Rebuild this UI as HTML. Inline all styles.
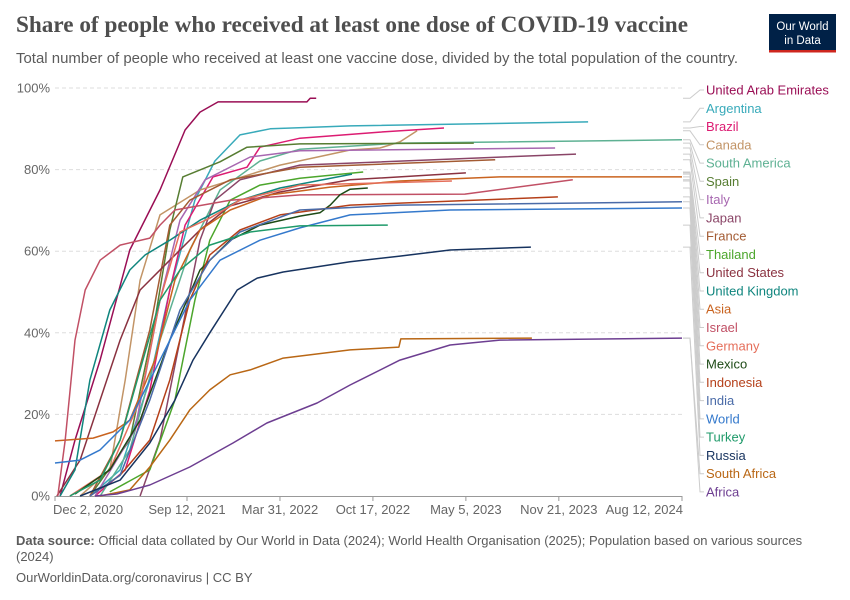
<!DOCTYPE html>
<html><head><meta charset="utf-8">
<style>
html,body{margin:0;padding:0;background:#fff;}
svg{display:block;font-family:"Liberation Sans",sans-serif;}
</style></head>
<body>
<svg id="chart" width="850" height="600" viewBox="0 0 850 600" xmlns="http://www.w3.org/2000/svg">
<text x="16" y="32" font-family="Liberation Serif,serif" font-weight="bold" font-size="23" fill="#4e4e4e" textLength="672" lengthAdjust="spacingAndGlyphs">Share of people who received at least one dose of COVID-19 vaccine</text>
<text x="16" y="63" font-size="14.5" fill="#5b5b5b" textLength="722" lengthAdjust="spacingAndGlyphs">Total number of people who received at least one vaccine dose, divided by the total population of the country.</text>
<g>
<rect x="769" y="14" width="67" height="38" fill="#002147"/>
<rect x="769" y="50" width="67" height="2.5" fill="#ce261e"/>
<text x="802.5" y="30" font-size="11.5" fill="#fff" text-anchor="middle">Our World</text>
<text x="802.5" y="44" font-size="11.5" fill="#fff" text-anchor="middle">in Data</text>
</g>
<g id="grid"></g>
<g id="axes"></g>
<g id="lines"></g>
<g id="legend"></g>
<text x="16" y="545" font-size="13" fill="#5b5b5b"><tspan font-weight="bold">Data source:</tspan> Official data collated by Our World in Data (2024); World Health Organisation (2025); Population based on various sources</text>
<text x="16" y="561" font-size="13" fill="#5b5b5b">(2024)</text>
<text x="16" y="582" font-size="13" fill="#5b5b5b">OurWorldinData.org/coronavirus | CC BY</text>
</svg>
<script>
const yTicks=[0,20,40,60,80,100];
const xTickDays=[0,284,484,684,884,1084,1349];
const xTickLabels=["Dec 2, 2020","Sep 12, 2021","Mar 31, 2022","Oct 17, 2022","May 5, 2023","Nov 21, 2023","Aug 12, 2024"];
const seriesNames=["United Arab Emirates","Argentina","Brazil","Canada","South America","Spain","Italy","Japan","France","Thailand","United States","United Kingdom","Asia","Israel","Germany","Mexico","Indonesia","India","World","Turkey","Russia","South Africa","Africa"];
const seriesColors=["#9a0e55","#38aaba","#dc1c72","#c29466","#5eb193","#577d32","#a767b0","#8a4567","#a35b33","#4ca62c","#8a3240","#0f857e","#c9631f","#c15065","#e56e5a","#1d4a16","#b5401a","#4a6ba8","#3479cc","#1f9a6a","#17335f","#b96715","#6d3e91"];
const uae=[[11,0],[43,13.7],[97,33.3],[161,60.3],[226,75],[280,89.7],[312,94.1],[351,96.6],[542,96.6],[549,97.5],[562,97.5]];
const argentina=[[75,0],[140,6.4],[204,28.4],[247,50.5],[301,72.5],[344,82.1],[398,88.5],[463,90],[635,90.7],[1147,91.7]];
const brazil=[[86,0],[151,6.4],[204,25.9],[247,50.5],[280,66.4],[340,78.2],[413,80.6],[441,85.5],[527,87.7],[699,89.2],[837,90.2]];
const canada=[[54,0],[118,6.4],[151,28.4],[183,52.9],[226,68.9],[312,75],[484,81.1],[635,84.8],[699,85.3],[742,86.8],[779,89.5]];
const southAmerica=[[97,0],[161,11.3],[226,38.2],[290,60.3],[355,75],[441,82.1],[527,85],[742,86.5],[1349,87.3]];
const spain=[[75,0],[161,13.7],[215,43.1],[247,65.2],[275,78.2],[355,81.9],[413,85.5],[527,86.3],[901,86.5]];
const italy=[[86,0],[172,16.2],[226,48],[269,67.6],[323,77.5],[420,83.1],[527,84.6],[1076,85.3]];
const japan=[[183,0],[226,13.7],[269,38.2],[312,62.7],[344,72.5],[398,77.5],[527,81.1],[1121,83.8]];
const france=[[75,0],[140,13.7],[204,40.7],[247,66.4],[290,72.5],[377,77.5],[527,80.6],[947,82.4]];
const thailand=[[118,1],[204,6.4],[258,23.5],[301,48],[333,62.7],[377,72.5],[441,76.2],[527,77.9],[663,79.4]];
const unitedStates=[[4,0],[54,8.8],[97,23.5],[140,38.2],[183,50.5],[247,57.8],[312,65.2],[377,71.1],[484,74.5],[635,77.5],[884,79.2]];
const unitedKingdom=[[11,0],[43,6.4],[75,28.4],[118,45.6],[161,55.4],[194,59.1],[247,62.7],[312,67.6],[398,72.5],[484,75.5],[639,78.9]];
const asia=[[0,13.5],[82,14.2],[125,15.7],[161,18.6],[215,33.3],[258,52.9],[312,65.2],[377,70.1],[463,73.8],[592,75.7],[742,77.2],[957,78.2],[1349,78.2]];
const israel=[[6,0],[22,13.7],[43,38.2],[65,50.5],[97,57.8],[140,61.5],[204,63.2],[226,66.4],[258,70.1],[377,72.5],[527,73.8],[882,74],[1114,77.5]];
const germany=[[32,0],[118,6.4],[183,23.5],[226,48],[269,64.7],[333,68.1],[398,72.5],[527,76.2],[854,77.2]];
const mexico=[[43,0.5],[118,6.4],[183,18.6],[247,38.2],[312,55.4],[377,62.7],[441,66.4],[527,68.6],[570,69.4],[592,71.3],[613,73.8],[635,75.2],[673,75.5]];
const indonesia=[[75,0],[140,5.1],[204,13.7],[247,28.4],[290,48],[333,59.1],[398,65.2],[484,68.9],[635,71.3],[1082,73.3]];
const india=[[75,0],[140,5.1],[204,23.5],[269,45.6],[333,57.8],[398,64.7],[527,70.1],[742,71.3],[1349,72.1]];
const world=[[0,8.1],[54,8.8],[97,11.3],[161,18.6],[226,33.3],[290,48],[355,57.8],[441,62.7],[527,65.7],[635,68.9],[850,70.1],[1349,70.6]];
const turkey=[[32,0],[97,3.9],[140,13.7],[183,30.9],[226,48],[269,55.4],[333,61.5],[420,64.7],[527,66.2],[716,66.4]];
const russia=[[54,0],[140,3.9],[204,13],[258,23.5],[297,33.3],[333,40],[392,50.5],[435,53.4],[491,54.9],[635,57.4],[742,58.8],[850,60.3],[1024,61]];
const southAfrica=[[97,0],[161,1.5],[204,7.1],[247,13.7],[290,21.1],[333,26],[377,29.7],[420,30.9],[491,33.8],[635,35.8],[740,36.5],[744,38.5],[1026,38.7]];
const africa=[[86,0],[133,0.5],[204,2.7],[290,7.1],[383,13],[456,17.9],[564,22.8],[635,27.2],[742,33.3],[850,37],[957,38.2],[1349,38.7]];
const seriesData=[uae,argentina,brazil,canada,southAmerica,spain,italy,japan,france,thailand,unitedStates,unitedKingdom,asia,israel,germany,mexico,indonesia,india,world,turkey,russia,southAfrica,africa];

const NS="http://www.w3.org/2000/svg";
const X0=55,X1=682,Y0=496,Y1=88,DMAX=1349;
function xs(d){return X0+d/DMAX*(X1-X0);}
function ys(v){return Y0-v/100*(Y0-Y1);}
function mk(tag,attrs,parent){const e=document.createElementNS(NS,tag);for(const k in attrs)e.setAttribute(k,attrs[k]);parent.appendChild(e);return e;}
const grid=document.getElementById('grid'),axes=document.getElementById('axes'),lines=document.getElementById('lines'),legend=document.getElementById('legend');
yTicks.forEach(t=>{
  if(t>0){const g=mk('line',{x1:X0,x2:X1,y1:ys(t),y2:ys(t),stroke:'#ddd','stroke-dasharray':'4,3'},grid);
  
  }
  const l=mk('text',{x:50,y:ys(t)+4.5,'text-anchor':'end','font-size':13,fill:'#666'},axes);
  
  
  l.textContent=t+'%';
});
const ax=mk('line',{x1:X0,x2:X1,y1:Y0+0.5,y2:Y0+0.5,stroke:'#999'},axes);


xTickDays.forEach((d,i)=>{
  const tk=mk('line',{x1:xs(d),x2:xs(d),y1:Y0,y2:Y0+5,stroke:'#999'},axes);
  
  
  const anchor=i===xTickDays.length-1?'end':(i===0?'start':'middle');
  const tl=mk('text',{x:i===0?xs(d)-2:(i===xTickDays.length-1?xs(d)+1:xs(d)),y:514,'text-anchor':anchor,'font-size':13,fill:'#666'},axes);
  
  
  tl.textContent=xTickLabels[i];
});
seriesData.forEach((s,i)=>{
  const p=s.map((pt,j)=>(j?'L':'M')+xs(pt[0]).toFixed(1)+','+ys(pt[1]).toFixed(1)).join('');
  const path=mk('path',{d:p,fill:'none',stroke:seriesColors[i],'stroke-width':1.5,'stroke-linejoin':'round'},lines);
  
  
  const last=s[s.length-1];
  const ly=90+i*18.27;
  const c=mk('path',{d:'M'+(X1+1)+','+ys(last[1]).toFixed(1)+'H690L700,'+ly.toFixed(1)+'H704',fill:'none',stroke:'#ccc','stroke-width':1},legend);
  
  
  const t=mk('text',{x:706,y:ly+4.5,'font-size':13,fill:seriesColors[i]},legend);
  
  
  t.textContent=seriesNames[i];
});
</script>
</body></html>
